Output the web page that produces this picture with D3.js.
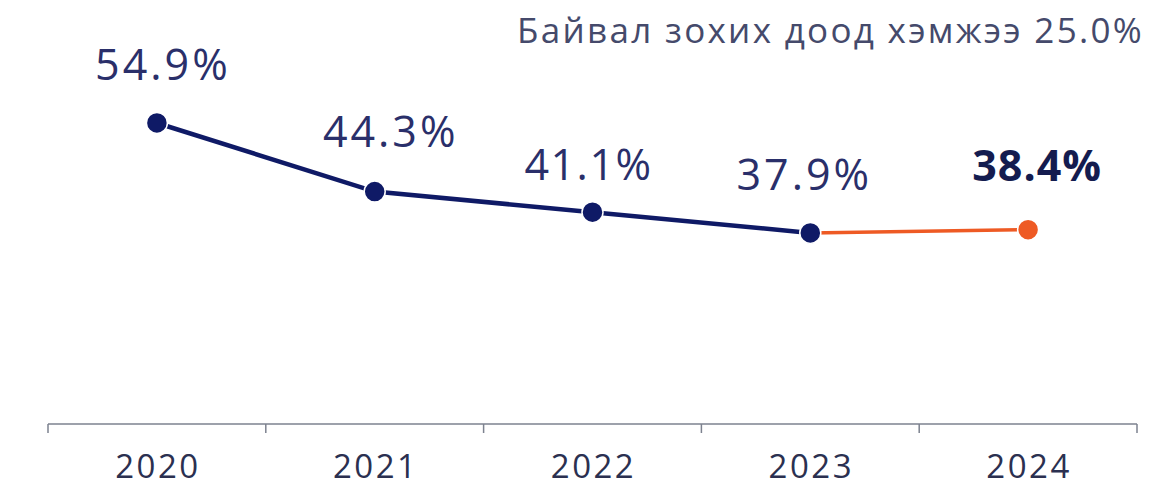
<!DOCTYPE html>
<html>
<head>
<meta charset="utf-8">
<script src="https://cdn.jsdelivr.net/npm/d3@7"></script>
<style>
html,body{margin:0;padding:0;background:#fff;}
svg{display:block;}
</style>
</head>
<body>
<svg id="chart" width="1176" height="487"></svg>
<script>
const years = ["2020", "2021", "2022", "2023", "2024"];
const values = [54.9, 44.3, 41.1, 37.9, 38.4];
const labels = ["54.9%", "44.3%", "41.1%", "37.9%", "38.4%"];
const headerText = "Байвал зохих доод хэмжээ 25.0%";

const svg = d3.select("#chart");
const font = "'Open Sans', 'DejaVu Sans', sans-serif";
const navy = "#0f1a66";
const orange = "#ee5a24";

const x = d3.scaleBand().domain(years).range([48, 1137]).padding(0);
const y = d3.scaleLinear().domain([0, 60]).range([478, 90]);

// axis
const axisG = svg.append("g").attr("transform", "translate(0,424)");
const axis = d3.axisBottom(x).tickSize(0).tickPadding(0);
axisG.call(axis);
axisG.select(".domain").remove();
axisG.append("line").attr("x1", 48).attr("x2", 1137).attr("y1", 0).attr("y2", 0)
  .attr("stroke", "#7d828f").attr("stroke-width", 1.5);
const bounds = years.map(d => x(d)).concat([x(years[years.length - 1]) + x.bandwidth()]);
axisG.selectAll("line.tk").data(bounds).join("line").attr("class", "tk")
  .attr("x1", d => d).attr("x2", d => d).attr("y1", 0).attr("y2", 9)
  .attr("stroke", "#7d828f").attr("stroke-width", 1.5);
axisG.selectAll(".tick text")
  .attr("y", 54)
  .attr("dy", 0)
  .attr("dx", 1)
  .attr("font-family", font)
  .attr("font-size", 33)
  .attr("letter-spacing", 2.5)
  .attr("fill", "#2b3050");

const cx = d => x(d) + x.bandwidth() / 2;
const pts = years.map((d, i) => ({ year: d, v: values[i], label: labels[i], i }));

const line = d3.line().x(d => cx(d.year)).y(d => y(d.v));
svg.append("path").datum(pts.slice(0, 4)).attr("d", line)
  .attr("fill", "none").attr("stroke", navy).attr("stroke-width", 4.5);
svg.append("path").datum(pts.slice(3, 5)).attr("d", line)
  .attr("fill", "none").attr("stroke", orange).attr("stroke-width", 3.5);

svg.selectAll("circle.pt").data(pts).join("circle").attr("class", "pt")
  .attr("cx", d => cx(d.year)).attr("cy", d => y(d.v)).attr("r", 10.5)
  .attr("fill", d => d.i === 4 ? orange : navy)
  .attr("stroke", "#fff").attr("stroke-width", 1.5);

// small label nudges (dx, dy) relative to default placement above each point
const nudgeX = [6, 16, -4, -6, 9];
const nudgeY = [0, -2, 11, 0, -6];
svg.selectAll("text.lbl").data(pts).join("text").attr("class", "lbl")
  .attr("x", d => cx(d.year) + nudgeX[d.i])
  .attr("y", d => y(d.v) - 43 + nudgeY[d.i])
  .attr("text-anchor", "middle")
  .attr("font-family", font)
  .attr("font-size", 43)
  .attr("font-weight", d => d.i === 4 ? 700 : 400)
  .attr("letter-spacing", d => d.i === 4 ? 1 : (d.i === 2 ? 1.5 : 3))
  .attr("fill", d => d.i === 4 ? "#141c4f" : "#2a2f6a")
  .text(d => d.label);

svg.append("text").attr("x", 1144).attr("y", 43).attr("text-anchor", "end")
  .attr("font-family", font).attr("font-size", 35).attr("letter-spacing", 2.3)
  .attr("fill", "#454a6b").text(headerText);
</script>
</body>
</html>
